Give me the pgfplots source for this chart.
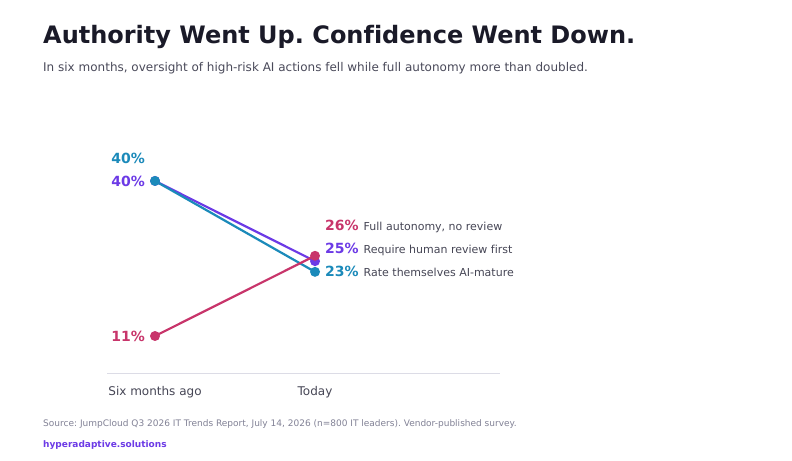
\documentclass[border=0pt]{standalone}
\usepackage{pgfplots}
\pgfplotsset{compat=1.18}
\usepackage{fontspec}
\setmainfont[Ligatures=CommonOff]{DejaVu Sans}
\frenchspacing
\definecolor{cTeal}{RGB}{27,138,186}
\definecolor{cPurple}{RGB}{108,58,230}
\definecolor{cRed}{RGB}{200,53,107}
\definecolor{cTitle}{RGB}{26,26,40}
\definecolor{cSub}{RGB}{74,74,90}
\definecolor{cSrc}{RGB}{130,130,150}
\definecolor{cAxis}{RGB}{220,220,230}
\definecolor{cLab}{RGB}{70,70,85}
\begin{document}
\begin{tikzpicture}
\fill[white] (0,0) rectangle (792bp,-461bp);
\node[anchor=base west, inner sep=0pt, text=cTitle, font=\fontsize{24bp}{28bp}\selectfont\bfseries] at (43bp,-43bp) {Authority Went Up. Confidence Went Down.};
\node[anchor=base west, inner sep=0pt, text=cSub, font=\fontsize{12bp}{14bp}\selectfont] at (43bp,-71bp) {In six months, oversight of high-risk AI actions fell while full autonomy more than doubled.};
\begin{axis}[
  at={(107bp,-373bp)}, anchor=south west,
  scale only axis, width=393bp, height=253bp,
  xmin=-0.3, xmax=2.156, ymin=4.08, ymax=51.4,
  clip=false,
  axis x line*=bottom, axis y line=none,
  x axis line style={draw=cAxis, line width=0.8bp, -},
  major tick length=0pt,
  xtick={0,1}, xticklabels={Six months ago, Today},
  xticklabel style={anchor=base, yshift=-22bp, text=cLab, font=\fontsize{12bp}{14bp}\selectfont},
  ytick=\empty,
]
\addplot[cPurple, line width=2.2bp, mark=*, mark size=3.8bp, mark options={solid, fill=cPurple, draw=none}] coordinates {(0,40) (1,25)};
\addplot[cTeal, line width=2.2bp, mark=*, mark size=3.8bp, mark options={solid, fill=cTeal, draw=none}] coordinates {(0,40) (1,23)};
\addplot[cRed, line width=2.2bp, mark=*, mark size=3.8bp, mark options={solid, fill=cRed, draw=none}] coordinates {(0,11) (1,26)};
% left labels
\node[anchor=east, inner sep=0pt, text=cTeal, font=\fontsize{14bp}{16bp}\selectfont\bfseries] at (axis cs:0,40) [xshift=-10bp, yshift=23bp] {40\%};
\node[anchor=east, inner sep=0pt, text=cPurple, font=\fontsize{14bp}{16bp}\selectfont\bfseries] at (axis cs:0,40) [xshift=-10bp] {40\%};
\node[anchor=east, inner sep=0pt, text=cRed, font=\fontsize{14bp}{16bp}\selectfont\bfseries] at (axis cs:0,11) [xshift=-10bp] {11\%};
% right labels
\node[anchor=west, inner sep=0pt, font=\fontsize{14bp}{16bp}\selectfont\bfseries, text=cRed] at (axis cs:1,31.58) [xshift=10bp] {26\%\hspace{5bp}{\fontsize{11bp}{13bp}\selectfont\mdseries\color{cLab}Full autonomy, no review}};
\node[anchor=west, inner sep=0pt, font=\fontsize{14bp}{16bp}\selectfont\bfseries, text=cPurple] at (axis cs:1,27.28) [xshift=10bp] {25\%\hspace{5bp}{\fontsize{11bp}{13bp}\selectfont\mdseries\color{cLab}Require human review first}};
\node[anchor=west, inner sep=0pt, font=\fontsize{14bp}{16bp}\selectfont\bfseries, text=cTeal] at (axis cs:1,23.16) [xshift=10bp] {23\%\hspace{5bp}{\fontsize{11bp}{13bp}\selectfont\mdseries\color{cLab}Rate themselves AI-mature}};
\end{axis}
\node[anchor=base west, inner sep=0pt, text=cSrc, font=\fontsize{9bp}{11bp}\selectfont] at (43bp,-426bp) {Source: JumpCloud Q3 2026 IT Trends Report, July 14, 2026 (n=800 IT leaders). Vendor-published survey.};
\node[anchor=base west, inner sep=0pt, text=cPurple, font=\fontsize{9bp}{11bp}\selectfont\bfseries] at (43bp,-447bp) {hyperadaptive.solutions};
\end{tikzpicture}
\end{document}
